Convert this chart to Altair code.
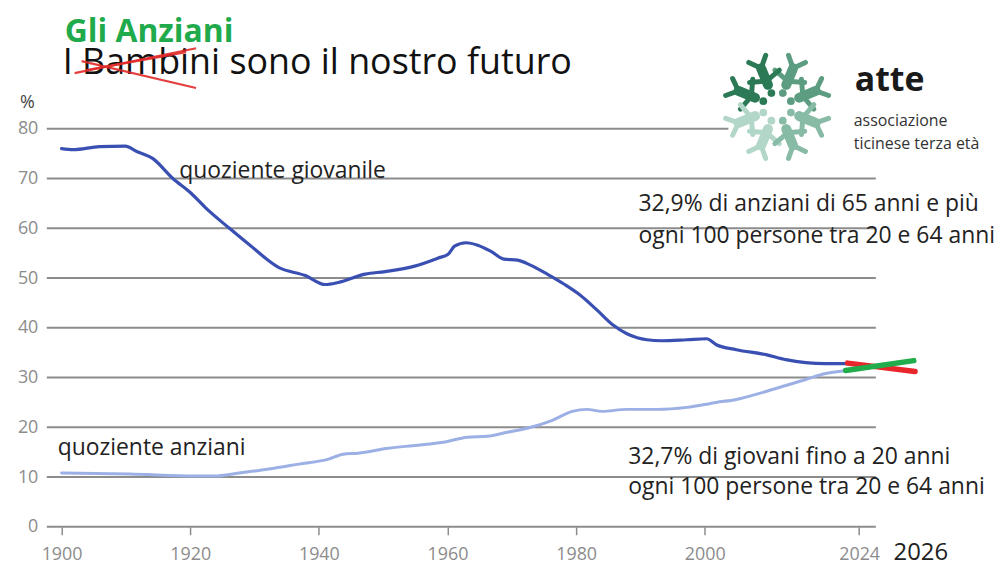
import math
import altair as alt
import pandas as pd

# ---------------- data ----------------
young_years = [1900, 1901.8, 1905.9, 1909.9, 1911.6, 1914.2, 1917.3, 1920.1, 1922.4, 1926.0,
               1929.1, 1933.8, 1937.9, 1941.0, 1943.0, 1947.2, 1950.3, 1954.9, 1958.5, 1960.1,
               1961.1, 1962.9, 1964.7, 1966.7, 1968.8, 1970.9, 1972.9, 1975.5, 1978.1, 1980.7,
               1983.3, 1985.8, 1987.9, 1989.5, 1991.0, 1993.3, 1997.2, 2000.3, 2001.8, 2004.9,
               2009.5, 2012.6, 2015.7, 2018.8, 2022.2]
young_vals = [76.0, 75.8, 76.4, 76.5, 75.5, 74.0, 70.0, 67.1, 64.1, 60.1,
              56.8, 52.1, 50.5, 48.7, 49.1, 50.8, 51.3, 52.4, 54.0, 54.8,
              56.4, 57.1, 56.6, 55.4, 53.8, 53.6, 52.6, 50.8, 48.8, 46.5,
              43.5, 40.5, 38.8, 38.0, 37.6, 37.4, 37.6, 37.8, 36.6, 35.6,
              34.6, 33.6, 33.0, 32.8, 32.8]

old_years = [1900, 1910.6, 1920.8, 1923.7, 1927.6, 1932.2, 1936.9, 1941.5, 1943.8, 1946.1,
             1950.8, 1955.4, 1959.3, 1963.1, 1966.2, 1969.3, 1972.4, 1976.3, 1979.4, 1981.7,
             1984.0, 1987.9, 1992.6, 1997.2, 2001.8, 2004.9, 2009.5, 2012.6, 2015.7, 2018.8,
             2022.2]
old_vals = [10.8, 10.6, 10.2, 10.2, 10.8, 11.6, 12.6, 13.6, 14.6, 14.8,
            15.8, 16.4, 17.0, 18.0, 18.2, 19.0, 19.8, 21.4, 23.2, 23.6,
            23.2, 23.6, 23.6, 24.0, 25.0, 25.6, 27.2, 28.4, 29.6, 30.8,
            31.4]

green_years = [2021.9, 2032.5]
green_vals = [31.4, 33.4]
red_years = [2022.2, 2032.7]
red_vals = [32.9, 31.2]

grid_vals = [0, 10, 20, 30, 40, 50, 60, 70, 80]
x_ticks = [1900, 1920, 1940, 1960, 1980, 2000, 2024]

ann_texts = ["quoziente giovanile", "quoziente anziani",
             "32,9% di anziani di 65 anni e più", "ogni 100 persone tra 20 e 64 anni",
             "32,7% di giovani fino a 20 anni", "ogni 100 persone tra 20 e 64 anni"]
ann_x = [1918.3, 1899.4, 1989.7, 1989.7, 1988.1, 1988.1]
ann_y = [70.2, 14.4, 63.5, 57.1, 12.6, 6.6]

# ---------------- style ----------------
FONT = "Open Sans"
GRAY = "#8c8c8c"
DARK_BLUE = "#3a4fb2"
LIGHT_BLUE = "#9db0e6"

xscale = alt.Scale(domain=[1897.7, 2036], nice=False, zero=False)
yscale = alt.Scale(domain=[0, 80], nice=False, zero=True)
xaxis = alt.Axis(values=x_ticks, format="d", title=None, grid=False, domain=False,
                 ticks=True, tickSize=8, tickColor=GRAY, tickWidth=1.5,
                 labelFont=FONT, labelFontSize=18, labelColor=GRAY,
                 labelPadding=25, labelBaseline="alphabetic", labelFlush=False)
yaxis = alt.Axis(values=grid_vals, title=None, grid=False, domain=False, ticks=False,
                 labelFont=FONT, labelFontSize=18, labelColor=GRAY, labelPadding=9)

young_df = pd.DataFrame({"year": young_years, "v": young_vals})
old_df = pd.DataFrame({"year": old_years, "v": old_vals})
green_df = pd.DataFrame({"year": green_years, "v": green_vals})
red_df = pd.DataFrame({"year": red_years, "v": red_vals})
grid_df = pd.DataFrame({"v": grid_vals, "year": [1897.7] * len(grid_vals),
                        "x2": [2026.6] * len(grid_vals)})
ann_df = pd.DataFrame({"t": ann_texts, "year": ann_x, "v": ann_y})

X = alt.X("year:Q", scale=xscale, axis=xaxis)
Y = alt.Y("v:Q", scale=yscale, axis=yaxis)

grid = alt.Chart(grid_df).mark_rule(color=GRAY, strokeWidth=2).encode(x=X, x2="x2:Q", y=Y)

# white patch behind the logo (logo image covers the top gridline)
patch = alt.Chart(pd.DataFrame({"a": [0]})).mark_rect(color="white").encode(
    x=alt.value(685), x2=alt.value(950), y=alt.value(-90), y2=alt.value(42))


def line_layer(df, color, width):
    return alt.Chart(df).mark_line(color=color, strokeWidth=width, interpolate="monotone",
                                   strokeCap="round").encode(x=X, y=Y)


old_line = line_layer(old_df, LIGHT_BLUE, 3)
young_line = line_layer(young_df, DARK_BLUE, 3.2)
red_line = line_layer(red_df, "#e8262b", 5.5)
green_line = line_layer(green_df, "#21ad4b", 5.5)

ann = alt.Chart(ann_df).mark_text(align="left", baseline="alphabetic", font=FONT,
                                   fontSize=23, color="#222222").encode(x=X, y=Y, text="t:N")

one = pd.DataFrame({"a": [0]})


def txt(s, x, y, size, color="#111111", weight="normal", align="left"):
    return alt.Chart(one).mark_text(text=s, align=align, baseline="alphabetic", font=FONT,
                                    fontSize=size, fontWeight=weight, color=color).encode(
        x=alt.value(x), y=alt.value(y))


year_lbl = alt.Chart(pd.DataFrame({"year": [2033.6], "t": ["2026"]})).mark_text(
    align="center", baseline="alphabetic", font=FONT, fontSize=24, color="#222222").encode(
    x=X, y=alt.value(433), text="t:N")

title1 = txt("Gli Anziani", 18, -87, 32, color="#1faa4b", weight="bold")
title2 = txt("I Bambini sono il nostro futuro", 16, -55, 36)
pct = txt("%", -27, -21, 18, color="#444444")

# red cross-out scribble
scr_df = pd.DataFrame({"x": [28, 35, 40], "y": [-56, -68, -59],
                       "x2": [150, 150, 140], "y2": [-81, -41, -77]})
scribble = alt.Chart(scr_df).mark_rule(color="#e02a2a", strokeWidth=2.2, opacity=0.9).encode(
    x=alt.X("x:Q", scale=None), y=alt.Y("y:Q", scale=None),
    x2="x2:Q", y2="y2:Q")

# logo: eight stylised figures in a ring
cx, cy = 734, -22
bodies, heads, arms = [], [], []
for k in range(8):
    th = math.radians(22.5 + 45 * k)
    if math.sin(th) > 0:
        col = "#2c7a55" if math.cos(th) < 0 else "#5c9d81"
    else:
        col = "#b2d6c7" if math.cos(th) < 0 else "#88bba5"
    bx1, by1 = cx + 24 * math.cos(th), cy - 24 * math.sin(th)
    bx2, by2 = cx + 42 * math.cos(th), cy - 42 * math.sin(th)
    bodies.append({"x": bx1, "y": by1, "x2": bx2, "y2": by2, "c": col})
    heads.append({"x": cx + 15 * math.cos(th), "y": cy - 15 * math.sin(th), "c": col})
    for s in (-1, 1):
        a2 = th + s * math.radians(26)
        arms.append({"x": cx + 28 * math.cos(th), "y": cy - 28 * math.sin(th),
                     "x2": cx + 37 * math.cos(a2), "y2": cy - 37 * math.sin(a2), "c": col})
    for s in (-1, 1):
        a2 = th + s * math.radians(10)
        arms.append({"x": bx2, "y": by2,
                     "x2": cx + 53 * math.cos(a2), "y2": cy - 53 * math.sin(a2), "c": col})

body_l = alt.Chart(pd.DataFrame(bodies)).mark_rule(strokeWidth=10, strokeCap="round").encode(
    x=alt.X("x:Q", scale=None), y=alt.Y("y:Q", scale=None), x2="x2:Q", y2="y2:Q",
    color=alt.Color("c:N", scale=None))
arm_l = alt.Chart(pd.DataFrame(arms)).mark_rule(strokeWidth=5, strokeCap="round").encode(
    x=alt.X("x:Q", scale=None), y=alt.Y("y:Q", scale=None), x2="x2:Q", y2="y2:Q",
    color=alt.Color("c:N", scale=None))
head_l = alt.Chart(pd.DataFrame(heads)).mark_point(filled=True, size=60, opacity=1).encode(
    x=alt.X("x:Q", scale=None), y=alt.Y("y:Q", scale=None),
    color=alt.Color("c:N", scale=None))

logo_t1 = txt("atte", 812, -38, 34, color="#1a1a1a", weight="bold")
logo_t2 = txt("associazione", 811, -3, 16, color="#333333")
logo_t3 = txt("ticinese terza età", 811, 20, 16, color="#333333")

chart = alt.layer(
    grid, patch, old_line, young_line, red_line, green_line, ann, year_lbl,
    title1, title2, scribble, pct,
    arm_l, body_l, head_l, logo_t1, logo_t2, logo_t3,
).properties(
    width=894, height=400,
    autosize=alt.AutoSizeParams(type="none"),
    padding={"left": 39, "top": 120, "right": 60, "bottom": 38},
    background="white",
).configure_view(stroke=None)

chart.save("out.html", embed_options={"renderer": "svg", "actions": False})
